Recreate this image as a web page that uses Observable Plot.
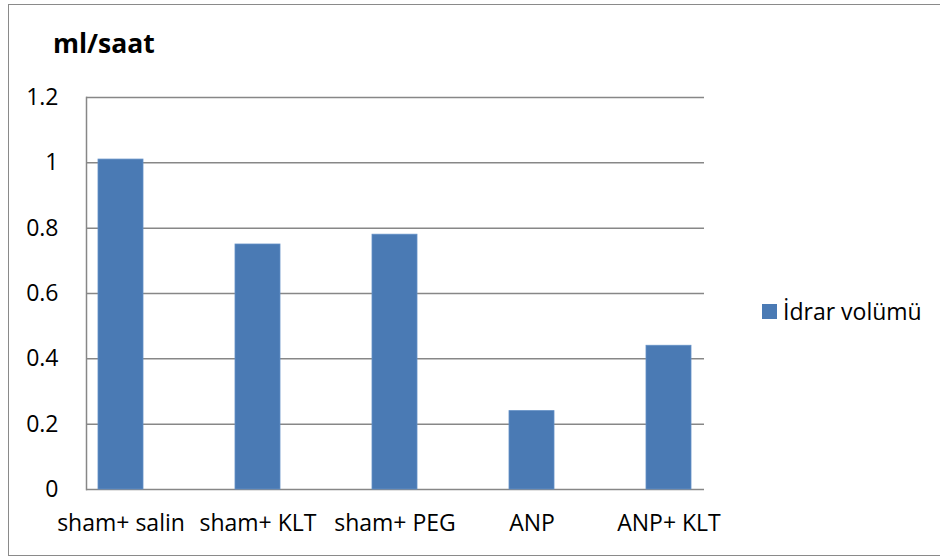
<!DOCTYPE html>
<html>
<head>
<meta charset="utf-8">
<script src="https://cdn.jsdelivr.net/npm/d3@7"></script>
<script src="https://cdn.jsdelivr.net/npm/@observablehq/plot@0.6"></script>
<style>
  body { margin: 0; background: #fff; }
  #chart { position: relative; width: 940px; height: 556px; overflow: hidden; font-family: "Open Sans", sans-serif; }
  #chart > svg { position: absolute; left: 0; top: 0; }
  #border { position: absolute; left: 8px; top: 4px; width: 1000px; height: 552px; border: 1.5px solid #8a8a8a; box-sizing: border-box; }
</style>
</head>
<body>
<div id="chart"><div id="border"></div></div>
<script>
// Urine volume per group (ml/saat)
const groups = ["sham+ salin", "sham+ KLT", "sham+ PEG", "ANP", "ANP+ KLT"];
const volumes = [1.01, 0.75, 0.78, 0.24, 0.44];
const seriesName = "İdrar volümü";
const unitTitle = "ml/saat";
const yTicks = [0, 0.2, 0.4, 0.6, 0.8, 1, 1.2];
const yTickLabels = ["0", "0.2", "0.4", "0.6", "0.8", "1", "1.2"];

const barColor = "#4a7ab4";
const gridColor = "#878787";
const data = groups.map((g, i) => ({group: g, value: volumes[i]}));

const plot = Plot.plot({
  width: 940,
  height: 556,
  marginLeft: 86,
  marginRight: 236,
  marginTop: 97,
  marginBottom: 67,
  style: {fontFamily: "Open Sans, sans-serif", fontSize: "23px", color: "#000", background: "transparent", overflow: "visible"},
  x: {domain: groups, range: [4.5, 784.5], padding: 0.6727, label: null},
  y: {domain: [0, 1.2], label: null},
  marks: [
    Plot.gridY(yTicks, {stroke: gridColor, strokeOpacity: 1, strokeWidth: 1.5}),
    Plot.frame({anchor: "left", stroke: gridColor, strokeWidth: 1.5}),
    Plot.barY(data, {x: "group", y: "value", fill: barColor, stroke: "#6390c6", strokeWidth: 0.8}),
    Plot.axisY({ticks: yTicks, tickFormat: d => yTickLabels[yTicks.indexOf(d)], tickSize: 0, tickPadding: 28, label: null}),
    Plot.axisX({tickSize: 0, tickPadding: 25, label: null})
  ]
});
document.getElementById("chart").appendChild(plot);

// Title and legend overlay
const overlay = d3.select("#chart").append("svg")
  .attr("width", 940).attr("height", 556)
  .style("font-family", "Open Sans, sans-serif");
overlay.append("text")
  .attr("x", 53).attr("y", 53)
  .attr("font-size", 26.5).attr("font-weight", "bold")
  .text(unitTitle);
overlay.append("rect")
  .attr("x", 762).attr("y", 304).attr("width", 15).attr("height", 15)
  .attr("fill", barColor);
overlay.append("text")
  .attr("x", 783).attr("y", 320)
  .attr("font-size", 23)
  .text(seriesName);
</script>
</body>
</html>
